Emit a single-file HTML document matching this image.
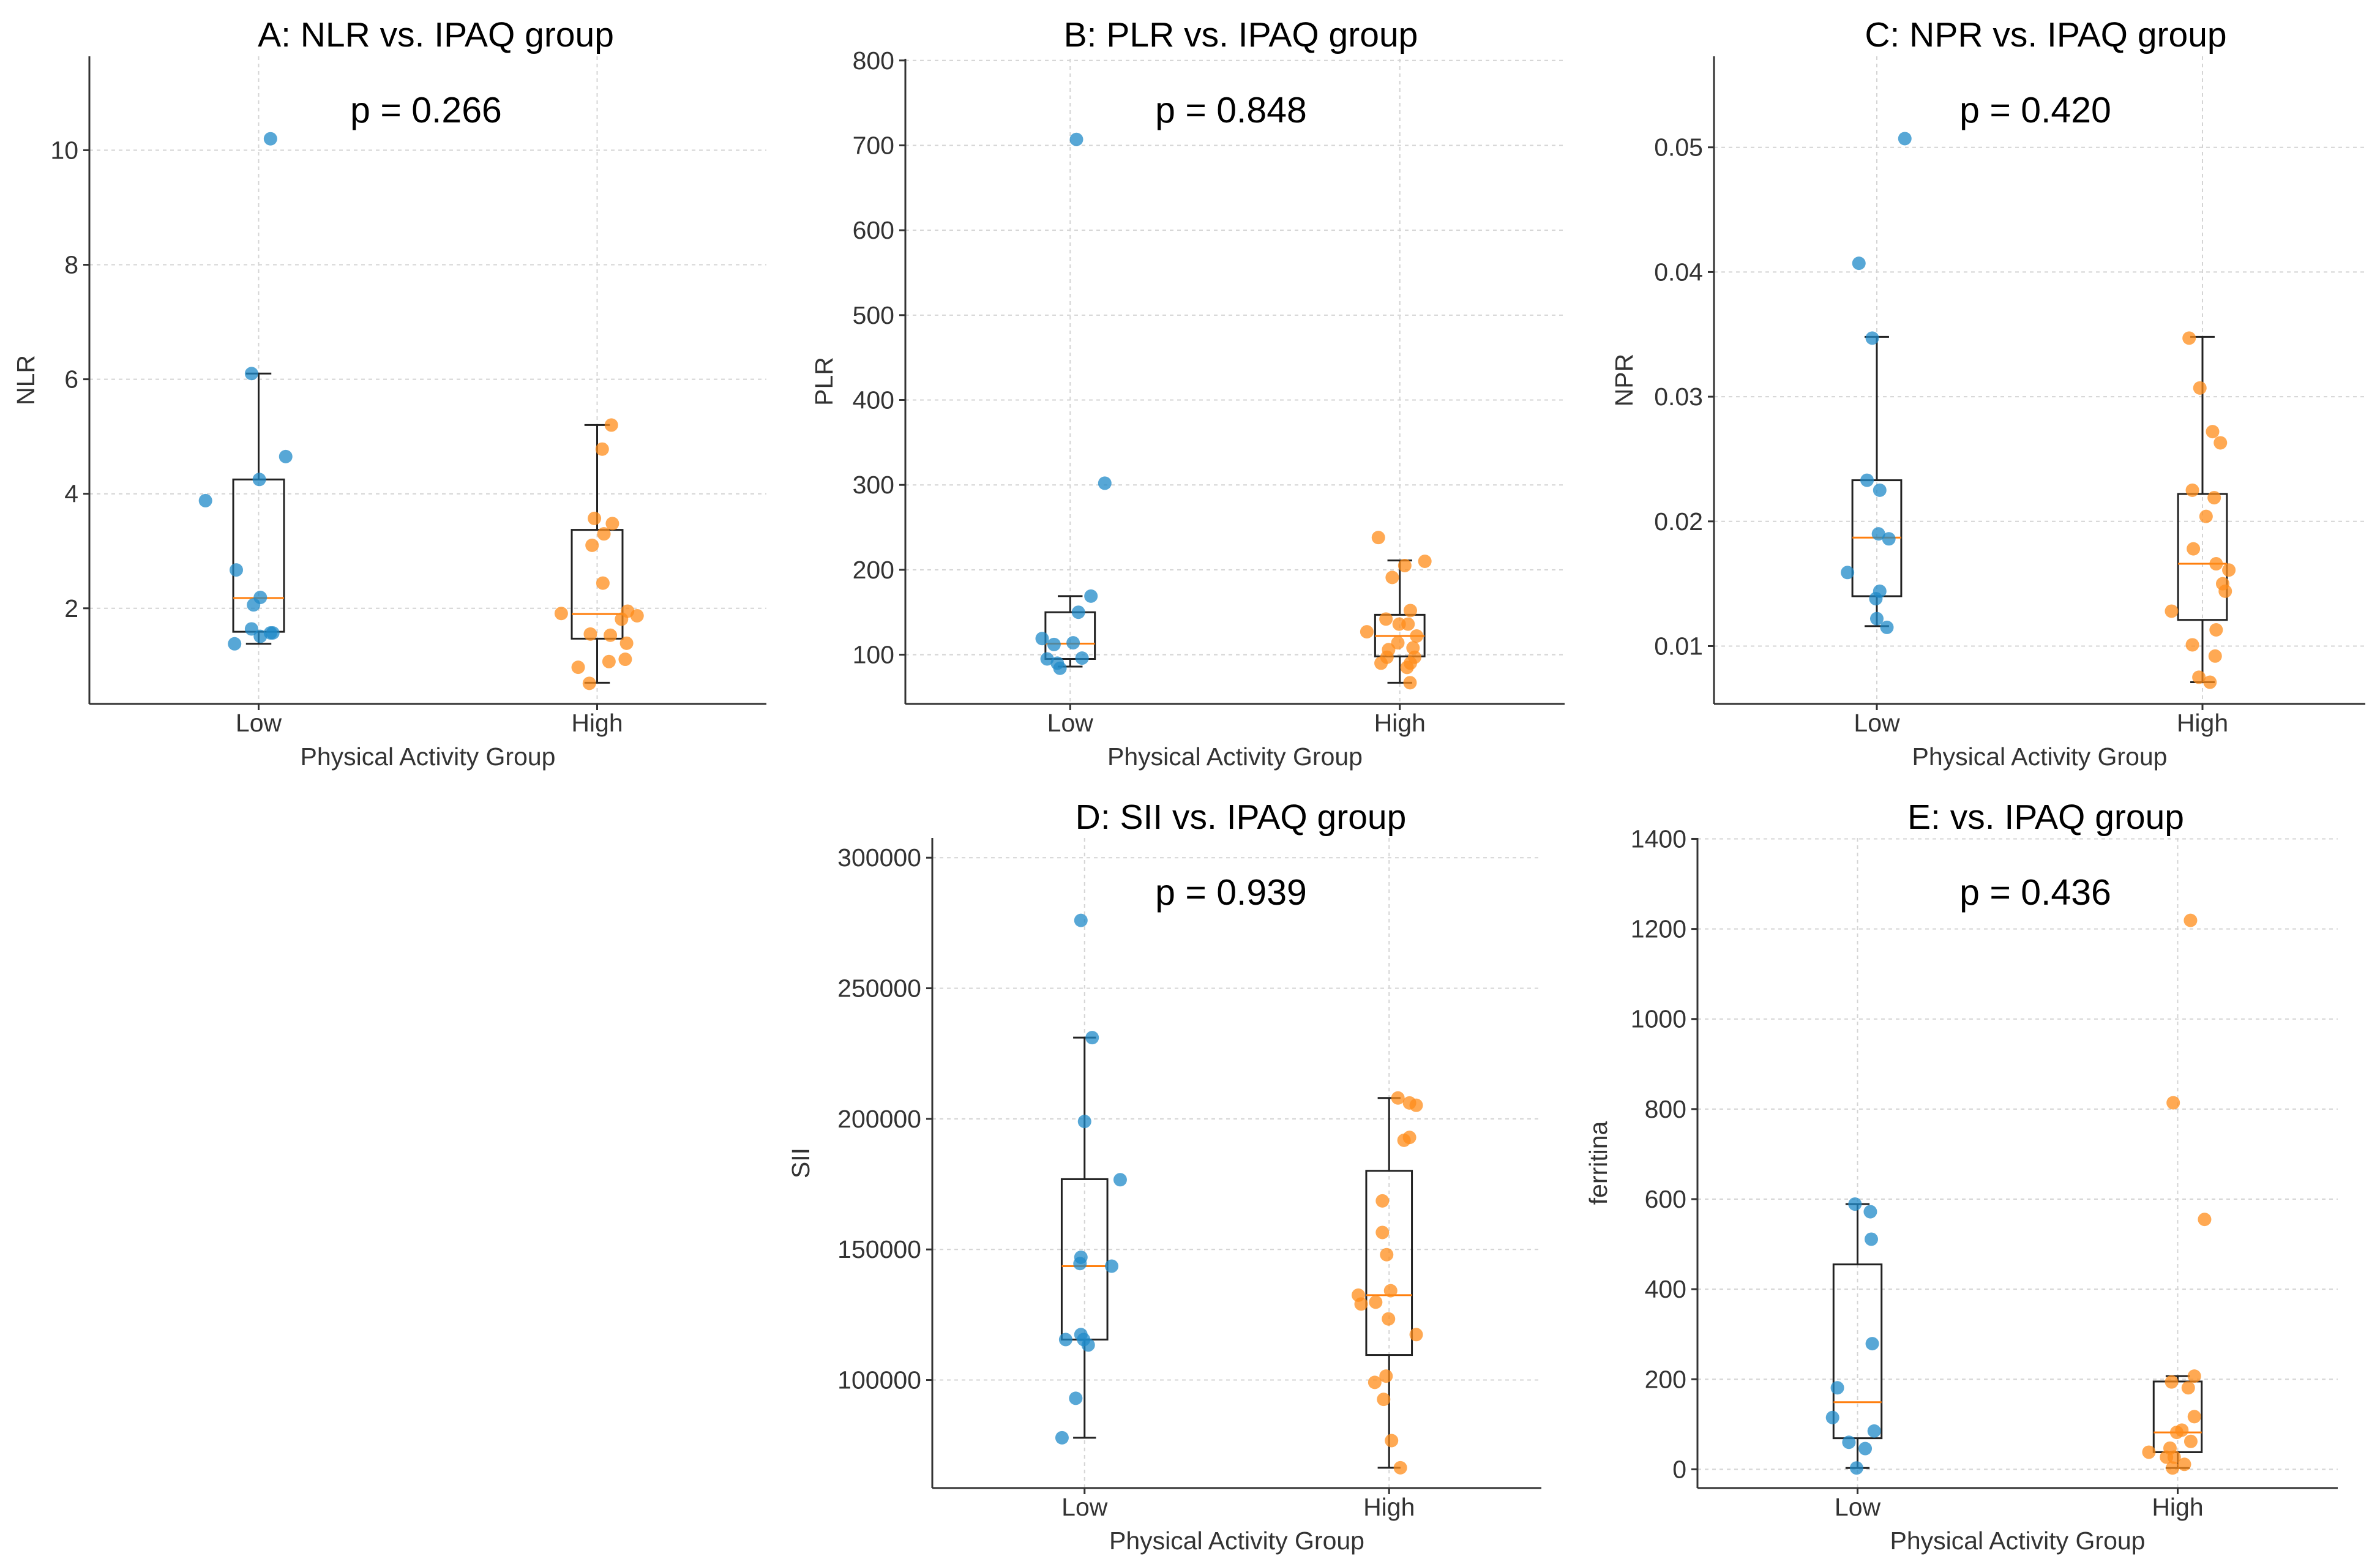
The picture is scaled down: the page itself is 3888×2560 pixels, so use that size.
<!DOCTYPE html>
<html><head><meta charset="utf-8"><style>
html,body{margin:0;padding:0;background:#fff;}
svg{display:block;}
text{font-family:"Liberation Sans",sans-serif;}
</style></head><body>
<svg id="fig" width="3888" height="2560" viewBox="0 0 3888 2560" xmlns="http://www.w3.org/2000/svg"></svg>
<script>
// ===== Data =====
const categories = ["Low", "High"];
// Panel A: NLR
const nlrLow = [10.2,6.1,4.65,3.88,4.25,2.67,2.19,2.06,1.64,1.57,1.57,1.51,1.38];
const nlrLowJit = [0.035,-0.021,0.08,-0.157,0.002,-0.066,0.005,-0.015,-0.021,0.042,0.035,0.005,-0.071];
const nlrHigh = [5.2,4.78,3.57,3.48,3.3,3.1,2.44,1.91,1.95,1.87,1.81,1.55,1.53,1.39,0.97,1.07,1.11,0.69];
const nlrHighJit = [0.042,0.015,-0.008,0.045,0.02,-0.015,0.017,-0.106,0.09,0.118,0.072,-0.02,0.039,0.087,-0.056,0.035,0.083,-0.023];
const nlrBoxLow = [1.38,1.59,2.18,4.25,6.1];
const nlrBoxHigh = [0.7,1.47,1.9,3.37,5.2];
const nlrTicks = [2,4,6,8,10];
// Panel B: PLR
const plrLow = [707,302,169,150,119,112,114,95,96,90,84];
const plrLowJit = [0.019,0.105,0.063,0.025,-0.085,-0.049,0.009,-0.07,0.036,-0.039,-0.031];
const plrHigh = [238,210,191,205,152,142,136,136,127,122,114,106,108,97,97,90,90,85,67];
const plrHighJit = [-0.065,0.076,-0.023,0.015,0.032,-0.042,-0.002,0.025,-0.1,0.051,-0.006,-0.034,0.04,-0.039,0.045,-0.057,0.032,0.022,0.031];
const plrBoxLow = [86,95,113,150,169];
const plrBoxHigh = [67,98,122,147,211];
const plrTicks = [100,200,300,400,500,600,700,800];
// Panel C: NPR
const nprLow = [0.0507,0.0407,0.0347,0.0233,0.0225,0.019,0.0186,0.0159,0.0144,0.0138,0.0122,0.0115];
const nprLowJit = [0.086,-0.055,-0.014,-0.03,0.009,0.005,0.037,-0.09,0.009,-0.003,0,0.031];
const nprHigh = [0.0347,0.0307,0.0272,0.0263,0.0225,0.0219,0.0204,0.0178,0.0166,0.0161,0.015,0.0144,0.0128,0.0113,0.0101,0.0092,0.0075,0.0071];
const nprHighJit = [-0.041,-0.008,0.031,0.055,-0.031,0.036,0.011,-0.028,0.042,0.081,0.062,0.07,-0.095,0.042,-0.031,0.039,-0.011,0.023];
const nprBoxLow = [0.0116,0.014,0.0187,0.0233,0.0348];
const nprBoxHigh = [0.0071,0.0121,0.0166,0.0222,0.0348];
const nprTicks = [0.01,0.02,0.03,0.04,0.05];
// Panel D: SII
const siiLow = [276000,231100,199000,176700,147000,144600,143600,117400,115500,115500,113400,93000,77900];
const siiLowJit = [-0.012,0.025,0,0.117,-0.012,-0.015,0.089,-0.012,-0.062,-0.003,0.012,-0.029,-0.074];
const siiHigh = [208000,206100,205200,192900,191800,168600,156500,148000,134200,132500,129100,129800,123400,117400,101500,99100,92600,76800,66400];
const siiHighJit = [0.029,0.067,0.089,0.067,0.049,-0.022,-0.022,-0.008,0.005,-0.101,-0.092,-0.044,-0.002,0.089,-0.01,-0.047,-0.018,0.008,0.037];
const siiBoxLow = [77900,115500,143600,176900,231100];
const siiBoxHigh = [66400,109600,132500,180100,208000];
const siiTicks = [100000,150000,200000,250000,300000];
// Panel E: ferritina
const ferLow = [589,572,511,279,181,115,85,60,46,3];
const ferLowJit = [-0.008,0.04,0.043,0.046,-0.063,-0.078,0.052,-0.027,0.024,-0.003];
const ferHigh = [1219,814,555,207,194,181,117,87,82,62,38,47,27,27,11,3];
const ferHighJit = [0.04,-0.014,0.084,0.052,-0.019,0.033,0.052,0.013,-0.003,0.041,-0.09,-0.024,-0.035,-0.011,0.021,-0.016];
const ferBoxLow = [3,69,149,455,589];
const ferBoxHigh = [3,38,82,195,207];
const ferTicks = [0,200,400,600,800,1000,1200,1400];

const NS = "http://www.w3.org/2000/svg";
const svg = document.getElementById("fig");
const BLUE = "#1f8ac8", ORANGE = "#ff8c1a";
function mk(tag, attrs, parent) {
  const e = document.createElementNS(NS, tag);
  for (const k in attrs) e.setAttribute(k, attrs[k]);
  (parent || svg).appendChild(e);
  return e;
}
function fmt(v, id) {
  if (id === "npr") return v.toFixed(2);
  return String(v);
}
function panel(cfg) {
  const g = mk("g", {});
  
  
  const {L, R, T, B, ymin, ymax} = cfg;
  const xs = c => L + (c + 0.5) / 2 * (R - L);
  const ys = v => B - (v - ymin) / (ymax - ymin) * (B - T);
  cfg.ticks.forEach(t => {
    const y = ys(t);
    const gl = mk("line", {x1: L, x2: R, y1: y, y2: y, stroke: "#d4d4d4", "stroke-width": 2, "stroke-dasharray": "6,6"}, g);
    
    
    const tk = mk("line", {x1: L - 10, x2: L, y1: y, y2: y, stroke: "#333", "stroke-width": 3}, g);
    
    
    const tl = mk("text", {x: L - 18, y: y + 14, "text-anchor": "end", "font-size": 41, fill: "#333"}, g);
    tl.textContent = fmt(t, cfg.id);
    
    
  });
  categories.forEach((c, i) => {
    const x = xs(i);
    const gl = mk("line", {x1: x, x2: x, y1: T, y2: B, stroke: "#d4d4d4", "stroke-width": 2, "stroke-dasharray": "6,6"}, g);
    
    
    const tk = mk("line", {x1: x, x2: x, y1: B, y2: B + 10, stroke: "#333", "stroke-width": 3}, g);
    
    
    const tl = mk("text", {x: x, y: B + 45, "text-anchor": "middle", "font-size": 41, fill: "#333"}, g);
    tl.textContent = c;
    
    
  });
  const boxes = [cfg.boxLow, cfg.boxHigh];
  boxes.forEach((b, i) => {
    const x = xs(i), hw = 0.075 * (R - L) / 2, cw = 0.0375 * (R - L) / 2;
    const [lo, q1, med, q3, hi] = b;
    const wl = mk("line", {x1: x, x2: x, y1: ys(q1), y2: ys(lo), stroke: "#222", "stroke-width": 3}, g);
    
    
    const wh = mk("line", {x1: x, x2: x, y1: ys(q3), y2: ys(hi), stroke: "#222", "stroke-width": 3}, g);
    
    
    const c1 = mk("line", {x1: x - cw, x2: x + cw, y1: ys(lo), y2: ys(lo), stroke: "#222", "stroke-width": 3}, g);
    
    
    const c2 = mk("line", {x1: x - cw, x2: x + cw, y1: ys(hi), y2: ys(hi), stroke: "#222", "stroke-width": 3}, g);
    
    
    const bx = mk("rect", {x: x - hw, y: ys(q3), width: 2 * hw, height: ys(q1) - ys(q3), fill: "none", stroke: "#222", "stroke-width": 3}, g);
    
    
    const md = mk("line", {x1: x - hw, x2: x + hw, y1: ys(med), y2: ys(med), stroke: "#ff7f0e", "stroke-width": 3}, g);
    
    
  });
  const sets = [[cfg.low, cfg.lowJit, BLUE], [cfg.high, cfg.highJit, ORANGE]];
  sets.forEach((s, i) => {
    s[0].forEach((v, k) => {
      const p = mk("circle", {cx: xs(i + s[1][k]), cy: ys(v), r: 11, fill: s[2], "fill-opacity": 0.75}, g);
      
      
    });
  });
  const sl = mk("line", {x1: L, x2: L, y1: T, y2: B, stroke: "#333", "stroke-width": 3}, g);
  
  
  const sb = mk("line", {x1: L, x2: R, y1: B, y2: B, stroke: "#333", "stroke-width": 3}, g);
  
  
  const ttl = mk("text", {x: cfg.tx, y: cfg.ty, "text-anchor": "middle", "font-size": 57, fill: "#000"}, g);
  ttl.textContent = cfg.title;
  
  
  const pv = mk("text", {x: cfg.px, y: cfg.py, "text-anchor": "middle", "font-size": 59, fill: "#000"}, g);
  pv.textContent = cfg.p;
  
  
  const xl = mk("text", {x: (L + R) / 2, y: B + 100, "text-anchor": "middle", "font-size": 41, fill: "#333"}, g);
  xl.textContent = "Physical Activity Group";
  
  
  const cy = (T + B) / 2;
  const yl = mk("text", {x: cfg.ylx, y: cy, "text-anchor": "middle", "font-size": 41, fill: "#333", transform: `rotate(-90 ${cfg.ylx} ${cy})`}, g);
  yl.textContent = cfg.ylabel;
  
  
}

panel({id: "nlr", L: 146, R: 1252, T: 92, B: 1150, ymin: 0.33, ymax: 11.64, ticks: nlrTicks,
  low: nlrLow, lowJit: nlrLowJit, high: nlrHigh, highJit: nlrHighJit, boxLow: nlrBoxLow, boxHigh: nlrBoxHigh,
  title: "A: NLR vs. IPAQ group", tx: 712, ty: 76, p: "p = 0.266", px: 696, py: 200, ylabel: "NLR", ylx: 56});
panel({id: "plr", L: 1479, R: 2556, T: 96, B: 1150, ymin: 42, ymax: 802, ticks: plrTicks,
  low: plrLow, lowJit: plrLowJit, high: plrHigh, highJit: plrHighJit, boxLow: plrBoxLow, boxHigh: plrBoxHigh,
  title: "B: PLR vs. IPAQ group", tx: 2027, ty: 76, p: "p = 0.848", px: 2011, py: 200, ylabel: "PLR", ylx: 1360});
panel({id: "npr", L: 2800, R: 3864, T: 92, B: 1150, ymin: 0.00536, ymax: 0.0573, ticks: nprTicks,
  low: nprLow, lowJit: nprLowJit, high: nprHigh, highJit: nprHighJit, boxLow: nprBoxLow, boxHigh: nprBoxHigh,
  title: "C: NPR vs. IPAQ group", tx: 3342, ty: 76, p: "p = 0.420", px: 3325, py: 200, ylabel: "NPR", ylx: 2667});
panel({id: "sii", L: 1523, R: 2518, T: 1369, B: 2431, ymin: 58640, ymax: 307550, ticks: siiTicks,
  low: siiLow, lowJit: siiLowJit, high: siiHigh, highJit: siiHighJit, boxLow: siiBoxLow, boxHigh: siiBoxHigh,
  title: "D: SII vs. IPAQ group", tx: 2027, ty: 1354, p: "p = 0.939", px: 2011, py: 1478, ylabel: "SII", ylx: 1322});
panel({id: "fer", L: 2773, R: 3819, T: 1369, B: 2431, ymin: -41.6, ymax: 1402, ticks: ferTicks,
  low: ferLow, lowJit: ferLowJit, high: ferHigh, highJit: ferHighJit, boxLow: ferBoxLow, boxHigh: ferBoxHigh,
  title: "E:  vs. IPAQ group", tx: 3342, ty: 1354, p: "p = 0.436", px: 3325, py: 1478, ylabel: "ferritina", ylx: 2625});
</script>
</body></html>
